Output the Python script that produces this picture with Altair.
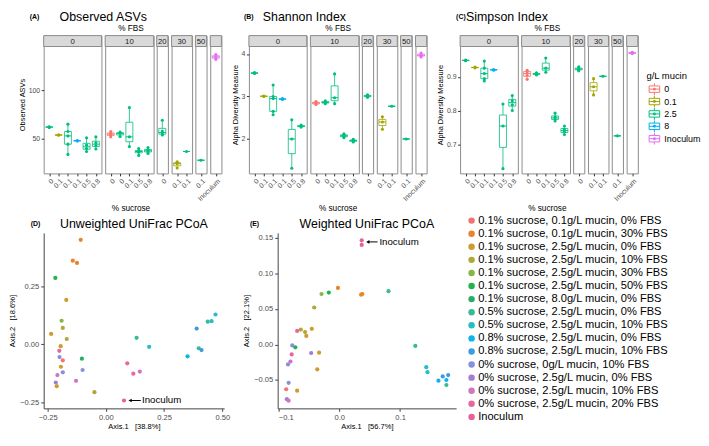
import altair as alt
import pandas as pd

FONT = "Liberation Sans"
GREY_TXT = "#4D4D4D"
BORDER = "#8C8C8C"

# ---------------- box-plot data (panels A-C) ----------------
FACETS = ["0", "10", "20", "30", "50", "Inoculum"]
STRIP_LABELS = ["0", "10", "20", "30", "50", ""]
GROUP_FBS = ["0", "0", "0", "0", "0", "0", "10", "10", "10", "10", "10",
             "20", "30", "30", "50", "Inoculum"]
GROUP_SUCROSE = ["0", "0.1", "0.1", "0.1", "0.5", "0.8", "0", "0", "0.1", "0.5", "0.8",
                 "0", "0.1", "0.1", "0.1", "Inoculum"]
GROUP_MUCIN = ["2.5", "0.1", "2.5", "8", "2.5", "2.5", "0", "2.5", "2.5", "2.5", "2.5",
               "2.5", "0.1", "2.5", "2.5", "Inoculum"]

OBSERVED = [
    [62.0, 62.4, 61.7], [54.2, 53.6], [65.0, 57.5, 53.0, 44.5, 34.0], [48.2, 47.8],
    [51.0, 43.5, 40.0, 37.0], [52.0, 46.0, 43.0, 39.5],
    [57.5, 55.5, 54.0, 52.0], [57.0, 55.5, 52.3], [82.0, 52.0, 42.0],
    [40.0, 37.5, 36.5, 33.0], [41.0, 38.5, 37.0, 35.0],
    [69.0, 58.0, 55.0, 54.0], [26.5, 24.5, 20.0], [37.0], [28.0], [136.5, 134.0, 131.5],
]
SHANNON = [
    [3.56, 3.55, 3.54], [3.01, 3.0], [3.27, 3.0, 2.95, 2.65, 2.57], [2.95, 2.93],
    [2.45, 2.0, 1.31], [2.33, 2.3, 2.28],
    [2.88, 2.86, 2.83, 2.81], [2.9, 2.86, 2.83], [3.53, 2.97, 2.83],
    [2.12, 2.09, 2.06, 2.03], [1.99, 1.97, 1.95, 1.93],
    [3.04, 3.02, 3.0, 2.98], [2.52, 2.4, 2.23], [2.77], [2.0], [4.02, 3.97, 3.93],
]
SIMPSON = [
    [0.95, 0.949, 0.948], [0.929, 0.927], [0.947, 0.926, 0.91, 0.895, 0.888], [0.922, 0.92],
    [0.82, 0.755, 0.629], [0.845, 0.83, 0.818, 0.801],
    [0.92, 0.915, 0.905, 0.893], [0.912, 0.909, 0.906], [0.956, 0.926, 0.914],
    [0.793, 0.782, 0.776, 0.77], [0.755, 0.745, 0.738, 0.73],
    [0.93, 0.925, 0.922, 0.918], [0.895, 0.871, 0.847], [0.902], [0.726], [0.973, 0.971, 0.969],
]

MUCIN_LEVELS = ["0", "0.1", "2.5", "8", "Inoculum"]
MUCIN_COLORS = ["#F8766D", "#A3A500", "#00BF7D", "#00B0F6", "#E76BF3"]

# ---------------- PCoA data (panels D-E) ----------------
GROUPS = [
    "0.1% sucrose, 0.1g/L mucin, 0% FBS", "0.1% sucrose, 0.1g/L mucin, 30% FBS",
    "0.1% sucrose, 2.5g/L mucin, 0% FBS", "0.1% sucrose, 2.5g/L mucin, 10% FBS",
    "0.1% sucrose, 2.5g/L mucin, 30% FBS", "0.1% sucrose, 2.5g/L mucin, 50% FBS",
    "0.1% sucrose, 8.0g/L mucin, 0% FBS", "0.5% sucrose, 2.5g/L mucin, 0% FBS",
    "0.5% sucrose, 2.5g/L mucin, 10% FBS", "0.8% sucrose, 2.5g/L mucin, 0% FBS",
    "0.8% sucrose, 2.5g/L mucin, 10% FBS", "0% sucrose, 0g/L mucin, 10% FBS",
    "0% sucrose, 2.5g/L mucin, 0% FBS", "0% sucrose, 2.5g/L mucin, 10% FBS",
    "0% sucrose, 2.5g/L mucin, 20% FBS", "Inoculum",
]
GROUP_COLORS = ["#F07470", "#E8852B", "#D19A2E", "#B1A733", "#86B746", "#22B44A",
                "#27AE66", "#36BA97", "#23BEC6", "#10B3EC", "#3D9BE0", "#8790D8",
                "#A47FC9", "#CE76C0", "#E8679F", "#E9609A"]

# group index per sample
D_GROUP = [1, 1, 1, 5, 2, 4, 3, 2, 3, 7, 8, 2, 14, 11, 6, 0, 2, 14, 11, 11, 13, 14, 13, 12,
           13, 2, 3, 15, 8, 8, 7, 10, 7, 10, 9]
D_X = [-0.108, -0.142, -0.124, -0.217, -0.170, -0.190, -0.185, -0.235, -0.168, 0.132, 0.186,
       -0.194, -0.200, -0.199, -0.103, -0.185, -0.193, 0.092, -0.100, -0.185, -0.208, 0.118,
       0.146, -0.215, -0.128, -0.211, -0.049, 0.078, 0.471, 0.454, 0.4375, 0.390, 0.399,
       0.411, 0.351]
D_Y = [0.452, 0.362, 0.352, 0.287, 0.192, 0.102, 0.071, 0.045, 0.023, 0.028, -0.011,
       -0.008, -0.028, -0.055, -0.062, -0.069, -0.097, -0.082, -0.111, -0.121, -0.133, -0.127,
       -0.118, -0.165, -0.158, -0.181, -0.207, -0.243, 0.129, 0.100, 0.098, 0.068, -0.017,
       -0.025, -0.052]

E_GROUP = [15, 15, 1, 1, 1, 4, 5, 7, 3, 3, 2, 3, 2, 14, 11, 6, 7, 12, 2, 14, 13, 11, 2,
           8, 8, 11, 2, 0, 12, 13, 9, 10, 9, 10, 7]
E_X = [0.037, 0.037, -0.002, 0.036, 0.038, -0.029, -0.017, 0.081, -0.041, -0.063, -0.045,
       -0.056, -0.054, -0.069, -0.077, -0.072, 0.125, -0.046, -0.033, -0.078, -0.080, -0.084,
       -0.036, 0.143, 0.145, -0.083, -0.069, -0.087, -0.086, -0.083, 0.163, 0.170, 0.176,
       0.179, 0.176]
E_Y = [0.1466, 0.140, 0.0795, 0.070, 0.071, 0.071, 0.073, 0.075, 0.052, 0.021, 0.022, 0.0175,
       0.012, 0.019, -0.0014, -0.004, -0.002, -0.012, -0.0115, -0.014, -0.024, -0.028, -0.035,
       -0.032, -0.039, -0.054, -0.065, -0.063, -0.077, -0.079, -0.051, -0.045, -0.050, -0.043,
       -0.057]

# ---------------- layout constants ----------------
UNIT = 9.4          # px per category
H = 139             # facet cell height (strip + panel)
S = 11              # strip height
BW = 0.75 * UNIT    # box width
CELL_SPACING = 3

MSCALE = alt.Scale(domain=MUCIN_LEVELS, range=MUCIN_COLORS)
BOX_GLYPH = ("M-0.9,-0.55H0.9V0.55H-0.9Z M-0.9,0H0.9 M0,-1V-0.55 M0,0.55V1")


def long_df(values):
    rows = []
    for f, s, m, vals in zip(GROUP_FBS, GROUP_SUCROSE, GROUP_MUCIN, values):
        for v in vals:
            rows.append({"facet": f, "key": f"{s}|{m}", "mucin": m, "mucin_f": m, "value": v})
    return pd.DataFrame(rows)


def facet_keys(facet):
    return [f"{s}|{m}" for f, s, m in zip(GROUP_FBS, GROUP_SUCROSE, GROUP_MUCIN) if f == facet]


def title_row(letter, title, x_letter, x_title, width, title_align="left", height=14):
    df = pd.DataFrame({"t": [letter], "u": [title]})
    a = alt.Chart(df).mark_text(fontSize=7, fontWeight="bold", align="left",
                                baseline="alphabetic", font=FONT, color="black").encode(
        x=alt.value(x_letter), y=alt.value(height - 5), text="t:N")
    b = alt.Chart(df).mark_text(fontSize=12.5, align=title_align, baseline="alphabetic",
                                font=FONT, color="black").encode(
        x=alt.value(x_title), y=alt.value(height - 3), text="u:N")
    return alt.layer(a, b).properties(width=width, height=height)


def box_facet(df, facet, strip, dom, ticks, ytitle, first):
    keys = facet_keys(facet)
    n = len(keys)
    W = UNIT * (n + 0.2)
    lo, hi = dom
    top = hi + (hi - lo) * S / (H - S)
    yscale = alt.Scale(domain=[lo, top], nice=False, zero=False)
    if first:
        yaxis = alt.Axis(title=ytitle, values=ticks, grid=False, domain=False,
                         tickColor="#333333", tickSize=2.5, labelColor=GREY_TXT,
                         labelFontSize=7, labelPadding=1.5, titleFontSize=7.5,
                         titleFontWeight="normal", titleColor="black", titlePadding=2)
    else:
        yaxis = None
    xaxis = alt.Axis(title=None, labelExpr="split(datum.label, '|')[0]", labelAngle=-45,
                     labelAlign="right", labelBaseline="top", labelFontSize=7,
                     labelColor=GREY_TXT, tickColor="#333333", tickSize=2.5, domain=False,
                     grid=False, labelPadding=1)
    xenc = alt.X("key:N", scale=alt.Scale(type="point", domain=keys, padding=0.6), axis=xaxis)
    stroke = alt.Stroke("mucin:N", scale=MSCALE, legend=None)
    fill = alt.Fill("mucin_f:N", scale=MSCALE, legend=None)
    base = alt.Chart(df[df.facet == facet])
    strip_df = pd.DataFrame({"strip": [strip]})
    rect = alt.Chart(strip_df).mark_rect(fill="#D9D9D9", stroke=BORDER, strokeWidth=1).encode(
        x=alt.value(0), x2=alt.value(W), y=alt.value(0), y2=alt.value(S))
    txt = alt.Chart(strip_df).mark_text(font=FONT, fontSize=7.8, color="#1A1A1A",
                                        baseline="middle").encode(
        x=alt.value(W / 2), y=alt.value(S / 2 + 0.5), text="strip:N")
    whisk = base.mark_rule(strokeWidth=0.8).encode(
        x=xenc, y=alt.Y("min(value):Q", scale=yscale, axis=yaxis), y2="max(value):Q",
        stroke=stroke)
    box = base.mark_bar(size=BW, fill="white", strokeWidth=0.8).encode(
        x=xenc, y=alt.Y("q1(value):Q", scale=yscale, axis=yaxis), y2="q3(value):Q",
        stroke=stroke)
    med = base.mark_tick(size=BW, thickness=1, opacity=1).encode(
        x=xenc, y=alt.Y("median(value):Q", scale=yscale, axis=yaxis), fill=fill)
    pts = base.mark_circle(size=10, opacity=1).encode(
        x=xenc, y=alt.Y("value:Q", scale=yscale, axis=yaxis), fill=fill)
    return alt.layer(rect, txt, whisk, box, med, pts).properties(
        width=W, height=H, view=alt.ViewBackground(stroke=BORDER, strokeWidth=1))


def box_panel(values, dom, ticks, ytitle, letter, title, x_letter, x_title, half_axis):
    df = long_df(values)
    cells = [box_facet(df, f, s, dom, ticks, ytitle, i == 0)
             for i, (f, s) in enumerate(zip(FACETS, STRIP_LABELS))]
    total_w = sum(UNIT * (len(facet_keys(f)) + 0.2) for f in FACETS) + \
        CELL_SPACING * (len(FACETS) - 1)
    inner = alt.hconcat(*cells, spacing=CELL_SPACING, bounds="flush").properties(
        title=alt.TitleParams("% FBS", anchor="middle", fontSize=8.3, fontWeight="normal",
                              offset=2, dx=half_axis))
    mid = alt.vconcat(inner).properties(
        title=alt.TitleParams("% sucrose", orient="bottom", anchor="middle", fontSize=8.3,
                              fontWeight="normal", offset=2, dx=half_axis))
    head = title_row(letter, title, x_letter, x_title, total_w - 20)
    return alt.vconcat(head, mid, spacing=0)


def mucin_legend():
    df = pd.DataFrame({"level": MUCIN_LEVELS, "idx": list(range(len(MUCIN_LEVELS))),
                       "title": ["g/L mucin"] + [""] * (len(MUCIN_LEVELS) - 1)})
    yenc = alt.Y("idx:Q", scale=alt.Scale(domain=[0, 4], range=[80, 130]), axis=None)
    glyph = alt.Chart(df).mark_point(shape=BOX_GLYPH, filled=False, size=140, opacity=1,
                                     strokeWidth=1, fill="white").encode(
        x=alt.value(8), y=yenc, stroke=alt.Stroke("level:N", scale=MSCALE, legend=None))
    dot = alt.Chart(df).mark_circle(size=9, opacity=1).encode(
        x=alt.value(8), y=yenc, fill=alt.Fill("level:N", scale=MSCALE, legend=None))
    lab = alt.Chart(df).mark_text(align="left", baseline="middle", fontSize=9, font=FONT,
                                  color="black").encode(x=alt.value(18), y=yenc,
                                                        text="level:N")
    ttl = alt.Chart(df.iloc[:1]).mark_text(align="left", baseline="middle", fontSize=9.5,
                                           font=FONT, color="black").encode(
        x=alt.value(0), y=alt.value(67), text="title:N")
    return alt.layer(glyph, dot, lab, ttl).properties(width=54, height=136)


panel_a = box_panel(OBSERVED, (14.5, 144.7), [50, 100], "Observed ASVs", "(A)",
                    "Observed ASVs", -14, 16, 11)
panel_b = box_panel(SHANNON, (1.19, 4.175), [2, 3, 4], "Alpha Diversity Measure", "(B)",
                    "Shannon Index", -5, 14, 9)
panel_c = box_panel(SIMPSON, (0.615, 0.99), [0.7, 0.8, 0.9], "Alpha Diversity Measure", "(C)",
                    "Simpson Index", -4, 6, 10)

top_row = alt.hconcat(panel_a, panel_b, panel_c, mucin_legend(), spacing=7)

# ---------------- PCoA panels ----------------
CSCALE = alt.Scale(domain=GROUPS, range=GROUP_COLORS)
CLEGEND = alt.Legend(title=None, orient="right", offset=10, labelFontSize=11.2,
                     labelLimit=300, symbolType="circle", symbolSize=42, symbolStrokeWidth=0,
                     rowPadding=1.2, labelOffset=1, labelColor="black")

MINUS = "replace(datum.label, '-', '\u2212')"


def pcoa(xs, ys, grp, xdom, ydom, xticks, yticks, xfmt, yfmt, xtitle, ytitle, title,
         letter, x_letter, ann, width):
    df = pd.DataFrame({"x": xs, "y": ys, "group": [GROUPS[g] for g in grp]})
    ax_common = dict(grid=False, domainColor="#444444", tickColor="#444444", tickSize=3,
                     labelColor=GREY_TXT, labelFontSize=7.6, titleFontSize=7.6,
                     titleFontWeight="normal", titleColor="black", labelExpr=MINUS)
    xenc = alt.X("x:Q", scale=alt.Scale(domain=xdom, nice=False, zero=False),
                 axis=alt.Axis(title=xtitle, values=xticks, format=xfmt, titlePadding=2,
                               **ax_common))
    yenc = alt.Y("y:Q", scale=alt.Scale(domain=ydom, nice=False, zero=False),
                 axis=alt.Axis(title=ytitle, values=yticks, format=yfmt, titlePadding=3,
                               **ax_common))
    pts = alt.Chart(df).mark_circle(size=18, opacity=1).encode(
        x=xenc, y=yenc, color=alt.Color("group:N", scale=CSCALE, legend=CLEGEND))
    adf = pd.DataFrame({"x1": [ann[0]], "x2": [ann[1]], "y": [ann[2]], "tx": [ann[3]],
                        "label": ["Inoculum"]})
    arrow = alt.Chart(adf).mark_rule(color="black", strokeWidth=1).encode(
        x="x1:Q", x2="x2:Q", y="y:Q")
    headp = alt.Chart(adf).mark_point(shape="triangle-left", filled=True, size=14,
                                      color="black", opacity=1).encode(x="x1:Q", y="y:Q")
    lab = alt.Chart(adf).mark_text(align="left", baseline="middle", fontSize=9.8,
                                   font=FONT, color="black").encode(
        x="tx:Q", y="y:Q", text="label:N")
    layer = alt.layer(pts, arrow, headp, lab).properties(width=width, height=177)
    head = title_row(letter, title, x_letter, width / 2, width, title_align="center",
                     height=16)
    return alt.vconcat(head, layer, spacing=2)


panel_d = pcoa(D_X, D_Y, D_GROUP, [-0.267, 0.508], [-0.277, 0.482], [-0.25, 0, 0.25, 0.5],
               [-0.25, 0, 0.25], ".2f", ".2f", "Axis.1\u00a0\u00a0\u00a0[38.8%]",
               "Axis.2\u00a0\u00a0\u00a0[18.6%]", "Unweighted UniFrac PCoA", "(D)", -13,
               (0.104, 0.150, -0.243, 0.155), 182)
panel_e = pcoa(E_X, E_Y, E_GROUP, [-0.101, 0.192], [-0.0899, 0.157], [-0.1, 0, 0.1],
               [-0.05, 0, 0.05, 0.1, 0.15], ".1f", ".2f", "Axis.1\u00a0\u00a0\u00a0[56.7%]",
               "Axis.2\u00a0\u00a0\u00a0[22.1%]", "Weighted UniFrac PCoA", "(E)", -28,
               (0.047, 0.063, 0.1443, 0.066), 180)

bottom_row = alt.hconcat(panel_d, panel_e, spacing=12)

chart = alt.vconcat(top_row, bottom_row, spacing=2).resolve_scale(
    color="independent", fill="independent", stroke="independent"
).configure(font=FONT).configure_view(stroke=None).configure_title(
    font=FONT, color="black").configure_axis(labelFont=FONT, titleFont=FONT).configure_legend(
    labelFont=FONT, titleFont=FONT).properties(padding=0)

chart.save("out.html", embed_options={"renderer": "svg", "actions": False})
